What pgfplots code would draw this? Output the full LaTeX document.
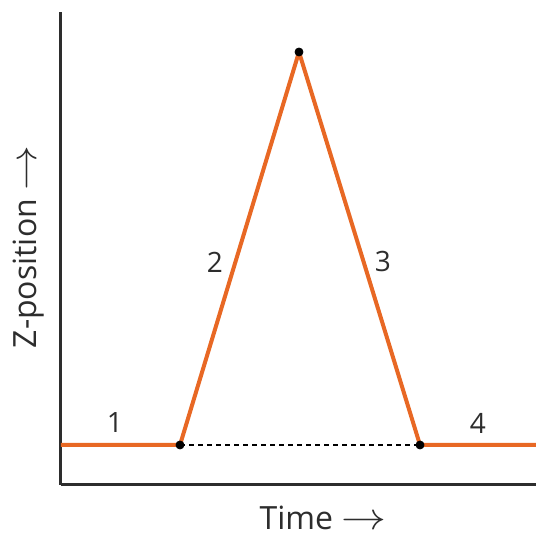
\documentclass[border=0pt]{standalone}
\usepackage{pgfplots}
\pgfplotsset{compat=1.18}
\usepackage{fontspec}
\setmainfont{Open Sans}
\definecolor{zline}{RGB}{232,104,36}
\definecolor{axgray}{RGB}{45,45,45}
\tikzset{lbl/.style={font=\fontsize{16}{18}\selectfont,text=axgray},
  num/.style={font=\fontsize{14}{16}\selectfont,text=axgray}}
\newcommand{\arr}{\scalebox{1.3}[1.1]{$\rightarrow$}}
\begin{document}
\begin{tikzpicture}[x=1pt,y=1pt]
  \useasboundingbox (-30.5,-25) rectangle (237.5,242.5);
  \begin{axis}[at={(0,0)},anchor=south west,scale only axis,
    width=237.5pt,height=236.5pt,
    xmin=0,xmax=475,ymin=0,ymax=473,
    axis x line=bottom,axis y line=left,
    axis line style={axgray,line width=1.5pt,-},
    xtick=\empty,ytick=\empty,clip=false]
    \addplot[zline,line width=2pt,line join=round] coordinates {(0,40) (119,40) (238,433) (359,40) (475,40)};
    \addplot[black,line width=1.1pt,dash pattern=on 2.5pt off 2pt] coordinates {(119,40) (359,40)};
    \addplot[only marks,mark=*,mark size=2pt,black] coordinates {(119,40) (238,433) (359,40)};
    \node[num] at (axis cs:54,62) {1};
    \node[num] at (axis cs:154,223) {2};
    \node[num] at (axis cs:322,223) {3};
    \node[num] at (axis cs:417,62) {4};
    \node[lbl] at (axis cs:262,-33) {Time \arr};
    \node[lbl,rotate=90] at (axis cs:-32,238) {Z-position \arr};
  \end{axis}
\end{tikzpicture}
\end{document}
